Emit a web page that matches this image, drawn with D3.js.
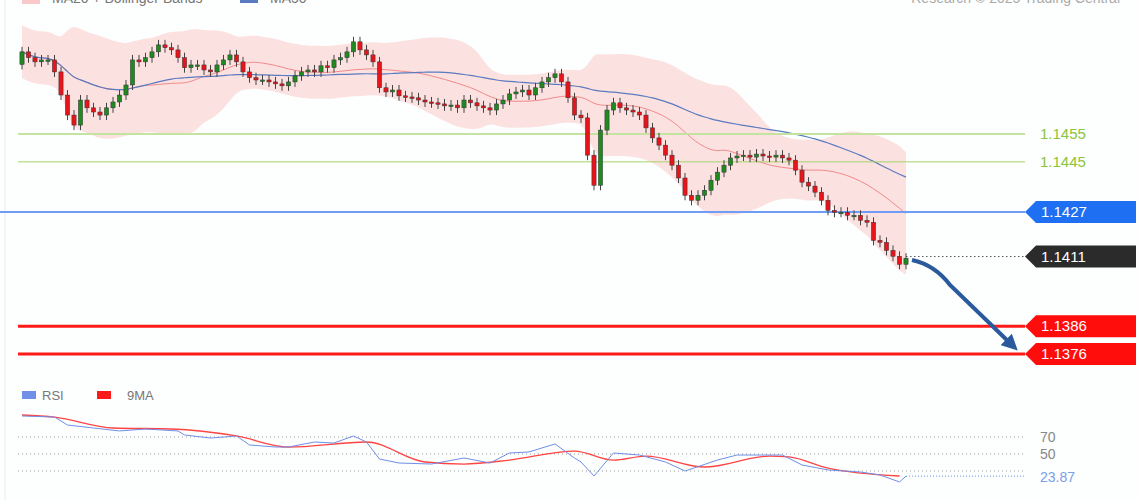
<!DOCTYPE html>
<html><head><meta charset="utf-8">
<script src="https://cdn.jsdelivr.net/npm/d3@7"></script>
<style>body{margin:0;background:#fff;}svg{display:block;font-family:"Liberation Sans",Arial,sans-serif;}</style>
</head><body><svg id="c" width="1140" height="500"></svg>
<script>
const closes=[1.14845,1.14824,1.14809,1.14816,1.14816,1.14773,1.14690,1.14618,1.14582,1.14672,1.14644,1.14629,1.14618,1.14644,1.14665,1.14690,1.14726,1.14816,1.14809,1.14824,1.14845,1.14870,1.14860,1.14852,1.14824,1.14788,1.14798,1.14798,1.14780,1.14773,1.14798,1.14816,1.14834,1.14809,1.14773,1.14752,1.14744,1.14744,1.14737,1.14730,1.14723,1.14737,1.14759,1.14773,1.14780,1.14773,1.14795,1.14788,1.14816,1.14824,1.14845,1.14881,1.14852,1.14834,1.14809,1.14716,1.14701,1.14708,1.14687,1.14683,1.14680,1.14672,1.14665,1.14662,1.14658,1.14651,1.14654,1.14644,1.14672,1.14662,1.14651,1.14644,1.14636,1.14658,1.14672,1.14694,1.14701,1.14708,1.14690,1.14716,1.14737,1.14752,1.14766,1.14737,1.14680,1.14618,1.14608,1.14474,1.14366,1.14564,1.14636,1.14662,1.14644,1.14636,1.14629,1.14618,1.14572,1.14536,1.14510,1.14474,1.14438,1.14392,1.14330,1.14312,1.14330,1.14348,1.14384,1.14413,1.14438,1.14464,1.14471,1.14474,1.14467,1.14478,1.14471,1.14467,1.14474,1.14464,1.14456,1.14420,1.14377,1.14363,1.14341,1.14312,1.14276,1.14269,1.14269,1.14258,1.14258,1.14240,1.14233,1.14168,1.14161,1.14132,1.14111,1.14082,1.14104];
const firstOpen=1.14800;
const wick=0.00018;
const levelsGreen=[1.1455,1.1445];
const levelBlue=1.1427;
const levelLast=1.1411;
const levelsRed=[1.1386,1.1376];
const rsiIdx=[0,5,7,11,15,19,24,25,29,33,35,39,41,45,48,51,53,55,58,63,68,72,75,78,82,85,86,88,91,95,99,102,107,110,117,120,124,129,132,135,136];
const rsiVal=[94.7,93.5,84.1,80.6,77.1,79.4,77.1,72.4,68.8,71.2,60.6,58.2,58.2,64.1,62.9,71.2,64.1,44.1,39.4,38.2,45.3,39.4,51.2,52.4,61.8,45.3,40.6,24.1,51.2,48.8,40.6,30,42.9,48.8,48.8,37.1,31.2,28.8,25.3,17.1,23.9];
const maIdx=[0,5,14,23,33,41,53,62,68,75,85,91,96,105,115,118,124,135];
const maVal=[95.9,93.5,80.6,79.4,71.2,58.2,64.1,40.6,38.2,42.9,53.5,42.9,47.6,34.7,47.6,46.5,33.5,24.1];
const rsiTicks=[70,50,30];
const rsiLast="23.87";

const svg=d3.select("#c");
const n=closes.length;
const x=d3.scaleLinear().domain([0,n-1]).range([22,906]);
const y=d3.scaleLinear().domain([1.1455,1.1376]).range([134,354]);
const yr=d3.scaleLinear().domain([70,50]).range([437,454]);

svg.append("rect").attr("x",5).attr("y",-2).attr("width",1140).attr("height",510).attr("fill","#fdfefe").attr("stroke","#e4ecf2");

function ma(p){return closes.map((c,i)=>{const s=closes.slice(Math.max(0,i-p+1),i+1);return d3.mean(s);});}
const ma20=ma(20),ma50=ma(50);
const band=closes.map((c,i)=>{const s=closes.slice(Math.max(0,i-19),i+1);const sd=Math.max(d3.deviation(s)||0,0.0005);return[ma20[i]+1.9*sd,ma20[i]-1.9*sd];});
svg.append("path").datum(band).attr("fill","#fbd9d9").attr("opacity",0.8)
 .attr("d",d3.area().x((d,i)=>x(i)).y0(d=>y(d[0])).y1(d=>y(d[1])).curve(d3.curveBasis));
svg.append("path").datum(ma20).attr("fill","none").attr("stroke","#f28a8a").attr("stroke-width",1)
 .attr("d",d3.line().x((d,i)=>x(i)).y(d=>y(d)).curve(d3.curveBasis));
svg.append("path").datum(ma50).attr("fill","none").attr("stroke","#5b7bc0").attr("stroke-width",1.2)
 .attr("d",d3.line().x((d,i)=>x(i)).y(d=>y(d)).curve(d3.curveBasis));

levelsGreen.forEach((v,k)=>{
 svg.append("line").attr("x1",18).attr("x2",1025).attr("y1",y(v)).attr("y2",y(v)).attr("stroke",k?"#a6d46a":"#c5e3a0").attr("stroke-width",k?1:2);
 svg.append("text").attr("x",1040).attr("y",y(v)+5).attr("fill","#8cc43c").attr("font-size",15).text(v.toFixed(4));
});
svg.append("line").attr("x1",0).attr("x2",1025).attr("y1",y(levelBlue)).attr("y2",y(levelBlue)).attr("stroke","#6f9df5").attr("stroke-width",2);
levelsRed.forEach(v=>svg.append("line").attr("x1",18).attr("x2",1025).attr("y1",y(v)).attr("y2",y(v)).attr("stroke","#ff1a1a").attr("stroke-width",3));
svg.append("line").attr("x1",906).attr("x2",1025).attr("y1",y(levelLast)).attr("y2",y(levelLast)).attr("stroke","#555").attr("stroke-dasharray","1.5,2.5");

function tag(v,col){
 const yy=y(v);
 svg.append("path").attr("d",`M1025,${yy} L1036,${yy-11} L1136,${yy-11} L1136,${yy+11} L1036,${yy+11} Z`).attr("fill",col);
 svg.append("text").attr("x",1041).attr("y",yy+5).attr("fill","#fff").attr("font-size",15).text(v.toFixed(4));
}
tag(levelBlue,"#1e6ff2");tag(levelLast,"#2b2b2b");levelsRed.forEach(v=>tag(v,"#ff0d0d"));

const cw=4.2;
closes.forEach((c,i)=>{
 const o=i?closes[i-1]:firstOpen;
 const up=c>=o;
 const hi=Math.max(o,c)+wick, lo=Math.min(o,c)-wick;
 svg.append("line").attr("x1",x(i)).attr("x2",x(i)).attr("y1",y(hi)).attr("y2",y(lo)).attr("stroke","#444").attr("stroke-width",1);
 const t=y(Math.max(o,c)),b=y(Math.min(o,c));
 svg.append("rect").attr("x",x(i)-cw/2).attr("y",t).attr("width",cw).attr("height",Math.max(1.5,b-t))
  .attr("fill",up?"#1f8a1f":"#e8141b").attr("stroke","#333").attr("stroke-width",0.5);
});

svg.append("defs").append("marker").attr("id","ah").attr("viewBox","0 0 10 10").attr("refX",5).attr("refY",5)
 .attr("markerWidth",4).attr("markerHeight",4).attr("orient","auto")
 .append("path").attr("d","M0,0 L10,5 L0,10 Z").attr("fill","#2a5a9c");
svg.append("path").attr("d","M912,260 Q935,265 950,285 L1012,345").attr("fill","none").attr("stroke","#2a5a9c").attr("stroke-width",4).attr("marker-end","url(#ah)");

svg.append("rect").attr("x",22).attr("y",-5).attr("width",18).attr("height",9).attr("fill","#f9c9c9");
svg.append("text").attr("x",52).attr("y",3).attr("fill","#777").attr("font-size",14).text("MA20 + Bollinger Bands");
svg.append("rect").attr("x",240).attr("y",-5).attr("width",18).attr("height",8).attr("fill","#5b7bc0");
svg.append("text").attr("x",270).attr("y",3).attr("fill","#777").attr("font-size",14).text("MA50");
svg.append("text").attr("x",1120).attr("y",3).attr("text-anchor","end").attr("fill","#aaa").attr("font-size",14).text("Research © 2025 Trading Central");

rsiTicks.forEach(t=>svg.append("line").attr("x1",18).attr("x2",1025).attr("y1",yr(t)).attr("y2",yr(t)).attr("stroke","#999").attr("stroke-dasharray","1,3"));
svg.append("text").attr("x",1040).attr("y",yr(70)+5).attr("fill","#888").attr("font-size",14).text("70");
svg.append("text").attr("x",1040).attr("y",yr(50)+5).attr("fill","#888").attr("font-size",14).text("50");
const lastR=rsiVal[rsiVal.length-1];
svg.append("line").attr("x1",906).attr("x2",1025).attr("y1",yr(lastR)).attr("y2",yr(lastR)).attr("stroke","#9ab8f0").attr("stroke-dasharray","1,2").attr("stroke-width",1.5);
svg.append("text").attr("x",1040).attr("y",yr(lastR)+6).attr("fill","#7a9ee8").attr("font-size",14).text(rsiLast);
svg.append("path").datum(maVal).attr("fill","none").attr("stroke","#ff4444").attr("stroke-width",1.3)
 .attr("d",d3.line().x((d,i)=>x(maIdx[i])).y(d=>yr(d)).curve(d3.curveMonotoneX));
svg.append("path").datum(rsiVal).attr("fill","none").attr("stroke","#6f8fe8").attr("stroke-width",1)
 .attr("d",d3.line().x((d,i)=>x(rsiIdx[i])).y(d=>yr(d)));
svg.append("rect").attr("x",22).attr("y",391).attr("width",14).attr("height",8).attr("fill","#6f8fe8");
svg.append("text").attr("x",42).attr("y",400).attr("fill","#777").attr("font-size",13).text("RSI");
svg.append("rect").attr("x",97).attr("y",391).attr("width",14).attr("height",8).attr("fill","#ff1a1a");
svg.append("text").attr("x",127).attr("y",400).attr("fill","#777").attr("font-size",13).text("9MA");
</script></body></html>
